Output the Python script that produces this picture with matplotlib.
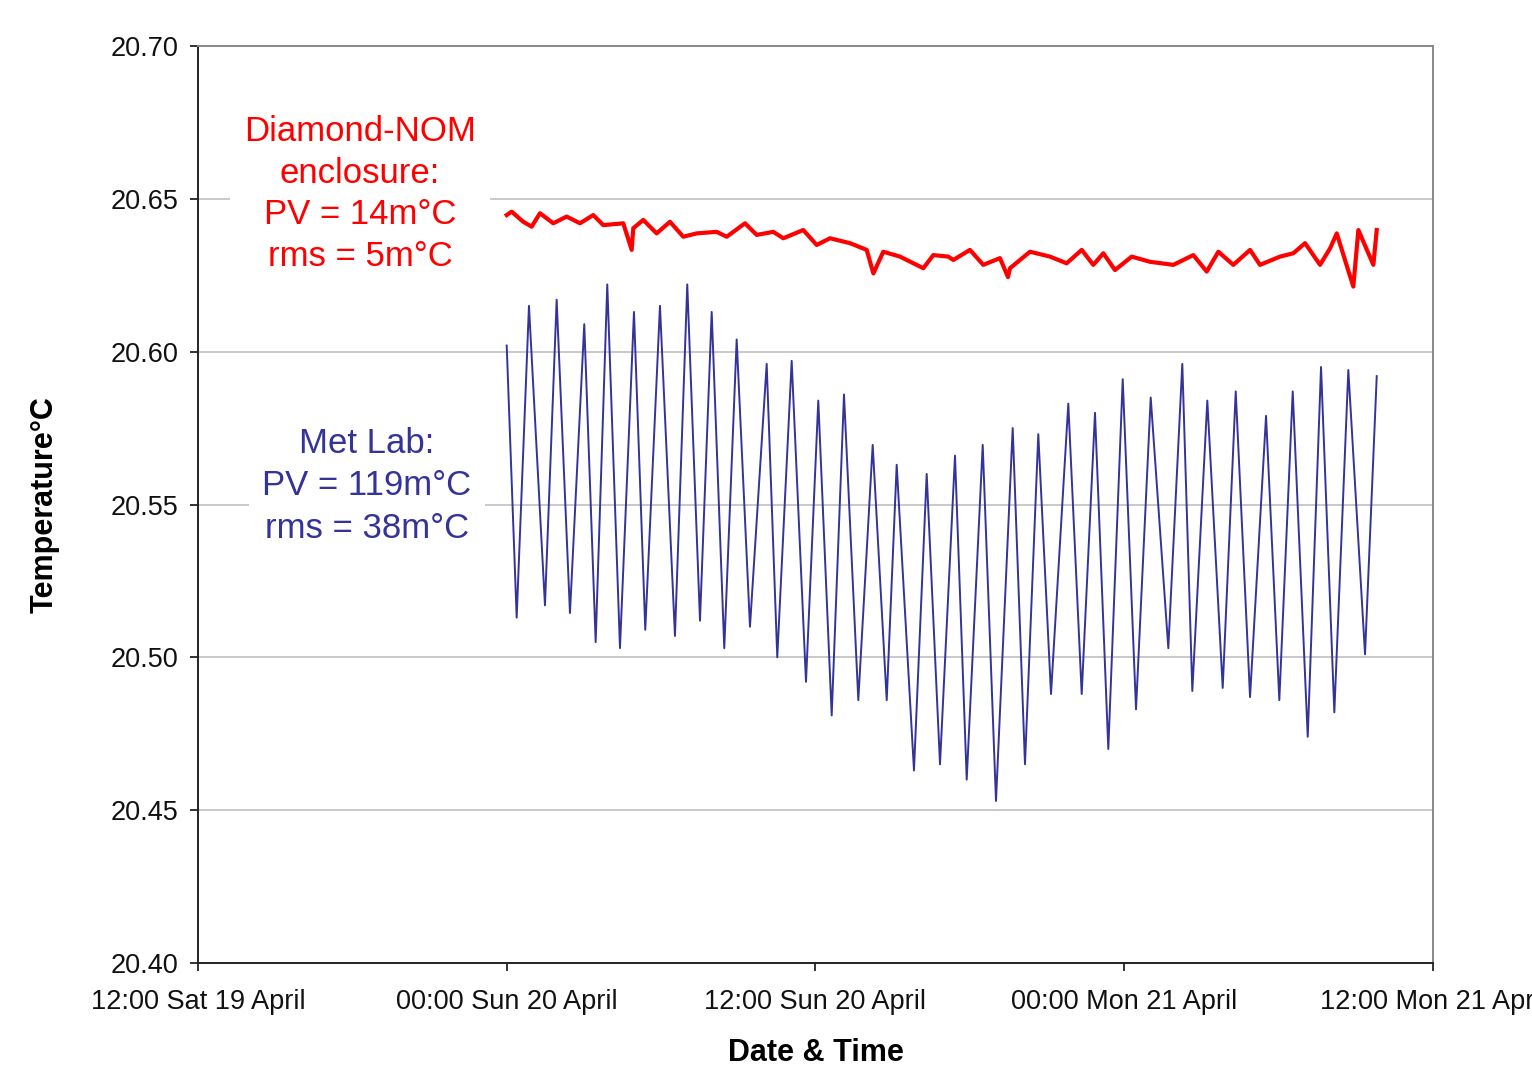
import numpy as np
import matplotlib
matplotlib.use('Agg')
import matplotlib.pyplot as plt

plt.rcParams['font.family'] = ['Liberation Sans', 'DejaVu Sans']

# hours since 00:00 Sun 20 April
met_hours = [0.00, 0.387, 0.865, 1.487, 1.941, 2.458, 3.014, 3.457, 3.908, 4.402,
             4.946, 5.385, 5.956, 6.539, 7.017, 7.511, 7.966, 8.455, 8.937, 9.454,
             10.103, 10.515, 11.075, 11.631, 12.109, 12.630, 13.108, 13.664, 14.223, 14.768,
             15.156, 15.828, 16.322, 16.839, 17.422, 17.877, 18.499, 19.015, 19.664, 20.142,
             20.659, 21.153, 21.825, 22.346, 22.863, 23.380, 23.940, 24.457, 25.028, 25.712,
             26.256, 26.645, 27.228, 27.826, 28.332, 28.888, 29.510, 30.026, 30.547, 31.130,
             31.647, 32.164, 32.708, 33.357, 33.812]
met_temp = [20.602, 20.513, 20.615, 20.517, 20.617, 20.5145, 20.609, 20.505, 20.622, 20.503,
            20.613, 20.509, 20.615, 20.507, 20.622, 20.512, 20.613, 20.503, 20.604, 20.510,
            20.596, 20.500, 20.597, 20.492, 20.584, 20.481, 20.586, 20.486, 20.5695, 20.486,
            20.563, 20.463, 20.560, 20.465, 20.566, 20.460, 20.5695, 20.453, 20.575, 20.465,
            20.573, 20.488, 20.583, 20.488, 20.580, 20.470, 20.591, 20.483, 20.585, 20.503,
            20.596, 20.489, 20.584, 20.490, 20.587, 20.487, 20.579, 20.486, 20.587, 20.474,
            20.595, 20.482, 20.594, 20.501, 20.592]

nom_hours = [0.0, 0.192, 0.643, 0.970, 1.292, 1.809, 2.330, 2.847, 3.364, 3.753,
             4.530, 4.857, 4.919, 5.307, 5.828, 6.345, 6.862, 7.383, 8.160, 8.549,
             9.260, 9.715, 10.360, 10.749, 11.526, 12.047, 12.564, 13.341, 13.990, 14.25,
             14.635, 15.284, 16.190, 16.578, 17.161, 17.356, 18.003, 18.521, 19.171, 19.48,
             19.559, 20.337, 21.114, 21.763, 22.346, 22.797, 23.186, 23.640, 24.289, 25.001,
             25.907, 26.684, 27.205, 27.656, 28.239, 28.888, 29.276, 30.054, 30.571, 31.026,
             31.609, 31.998, 32.258, 32.70, 32.902, 33.098, 33.681, 33.812]
nom_temp = [20.6447, 20.6458, 20.6425, 20.6409, 20.6453, 20.6420, 20.6442, 20.6420, 20.6447, 20.6414,
            20.6420, 20.6333, 20.6404, 20.6431, 20.6387, 20.6425, 20.6376, 20.6387, 20.6392, 20.6376,
            20.6420, 20.6382, 20.6392, 20.6371, 20.6398, 20.6349, 20.6371, 20.6355, 20.6333, 20.6256,
            20.6327, 20.6311, 20.6273, 20.6316, 20.6311, 20.6300, 20.6333, 20.6284, 20.6306, 20.6244,
            20.6273, 20.6327, 20.6311, 20.6289, 20.6333, 20.6284, 20.6322, 20.6267, 20.6311, 20.6294,
            20.6284, 20.6316, 20.6262, 20.6327, 20.6284, 20.6333, 20.6284, 20.6311, 20.6322, 20.6355,
            20.6284, 20.6338, 20.6387, 20.6267, 20.6213, 20.6398, 20.6284, 20.6398]

tick_hours = [-12, 0, 12, 24, 36]
tick_labels = ['12:00 Sat 19 April', '00:00 Sun 20 April', '12:00 Sun 20 April',
               '00:00 Mon 21 April', '12:00 Mon 21 April']
y_ticks = [20.40, 20.45, 20.50, 20.55, 20.60, 20.65, 20.70]

fig = plt.figure(figsize=(15.32, 10.70), dpi=100)
ax = fig.add_axes([0.1292, 0.1, 0.8062, 0.857])

ax.plot(met_hours, met_temp, color='#333399', lw=1.4, zorder=3)
ax.plot(nom_hours, nom_temp, color='#ff0000', lw=3.0, zorder=3)

ax.set_xlim(-12, 36)
ax.set_ylim(20.40, 20.70)
ax.set_xticks(tick_hours)
ax.set_xticklabels(tick_labels)
ax.set_yticks(y_ticks)
ax.set_yticklabels(['%.2f' % v for v in y_ticks])
ax.yaxis.grid(True, color='#c0c0c0', lw=1.2, zorder=0)
ax.set_axisbelow(True)

ax.tick_params(axis='both', direction='out', length=6, width=1.2,
               labelsize=19.5, colors='#111111')
ax.tick_params(axis='x', pad=13)
ax.tick_params(axis='y', pad=8)

for s in ['left', 'bottom']:
    ax.spines[s].set_color('#222222')
    ax.spines[s].set_linewidth(1.4)
for s in ['top', 'right']:
    ax.spines[s].set_color('#888888')
    ax.spines[s].set_linewidth(1.4)

ax.set_xlabel('Date & Time', fontsize=22, fontweight='bold', labelpad=16)
ax.set_ylabel('Temperature°C', fontsize=22, fontweight='bold', labelpad=37)

ax.text(-5.7, 20.6775, 'Diamond-NOM\nenclosure:\nPV = 14m°C\nrms = 5m°C',
        color='#ff0000', fontsize=25, ha='center', va='top', linespacing=1.34,
        bbox=dict(facecolor='white', edgecolor='none', pad=10), zorder=4)
ax.text(-5.43, 20.5755, 'Met Lab:\nPV = 119m°C\nrms = 38m°C',
        color='#333399', fontsize=25, ha='center', va='top', linespacing=1.38,
        bbox=dict(facecolor='white', edgecolor='none', pad=10), zorder=4)

fig.savefig('out.png', dpi=100)
